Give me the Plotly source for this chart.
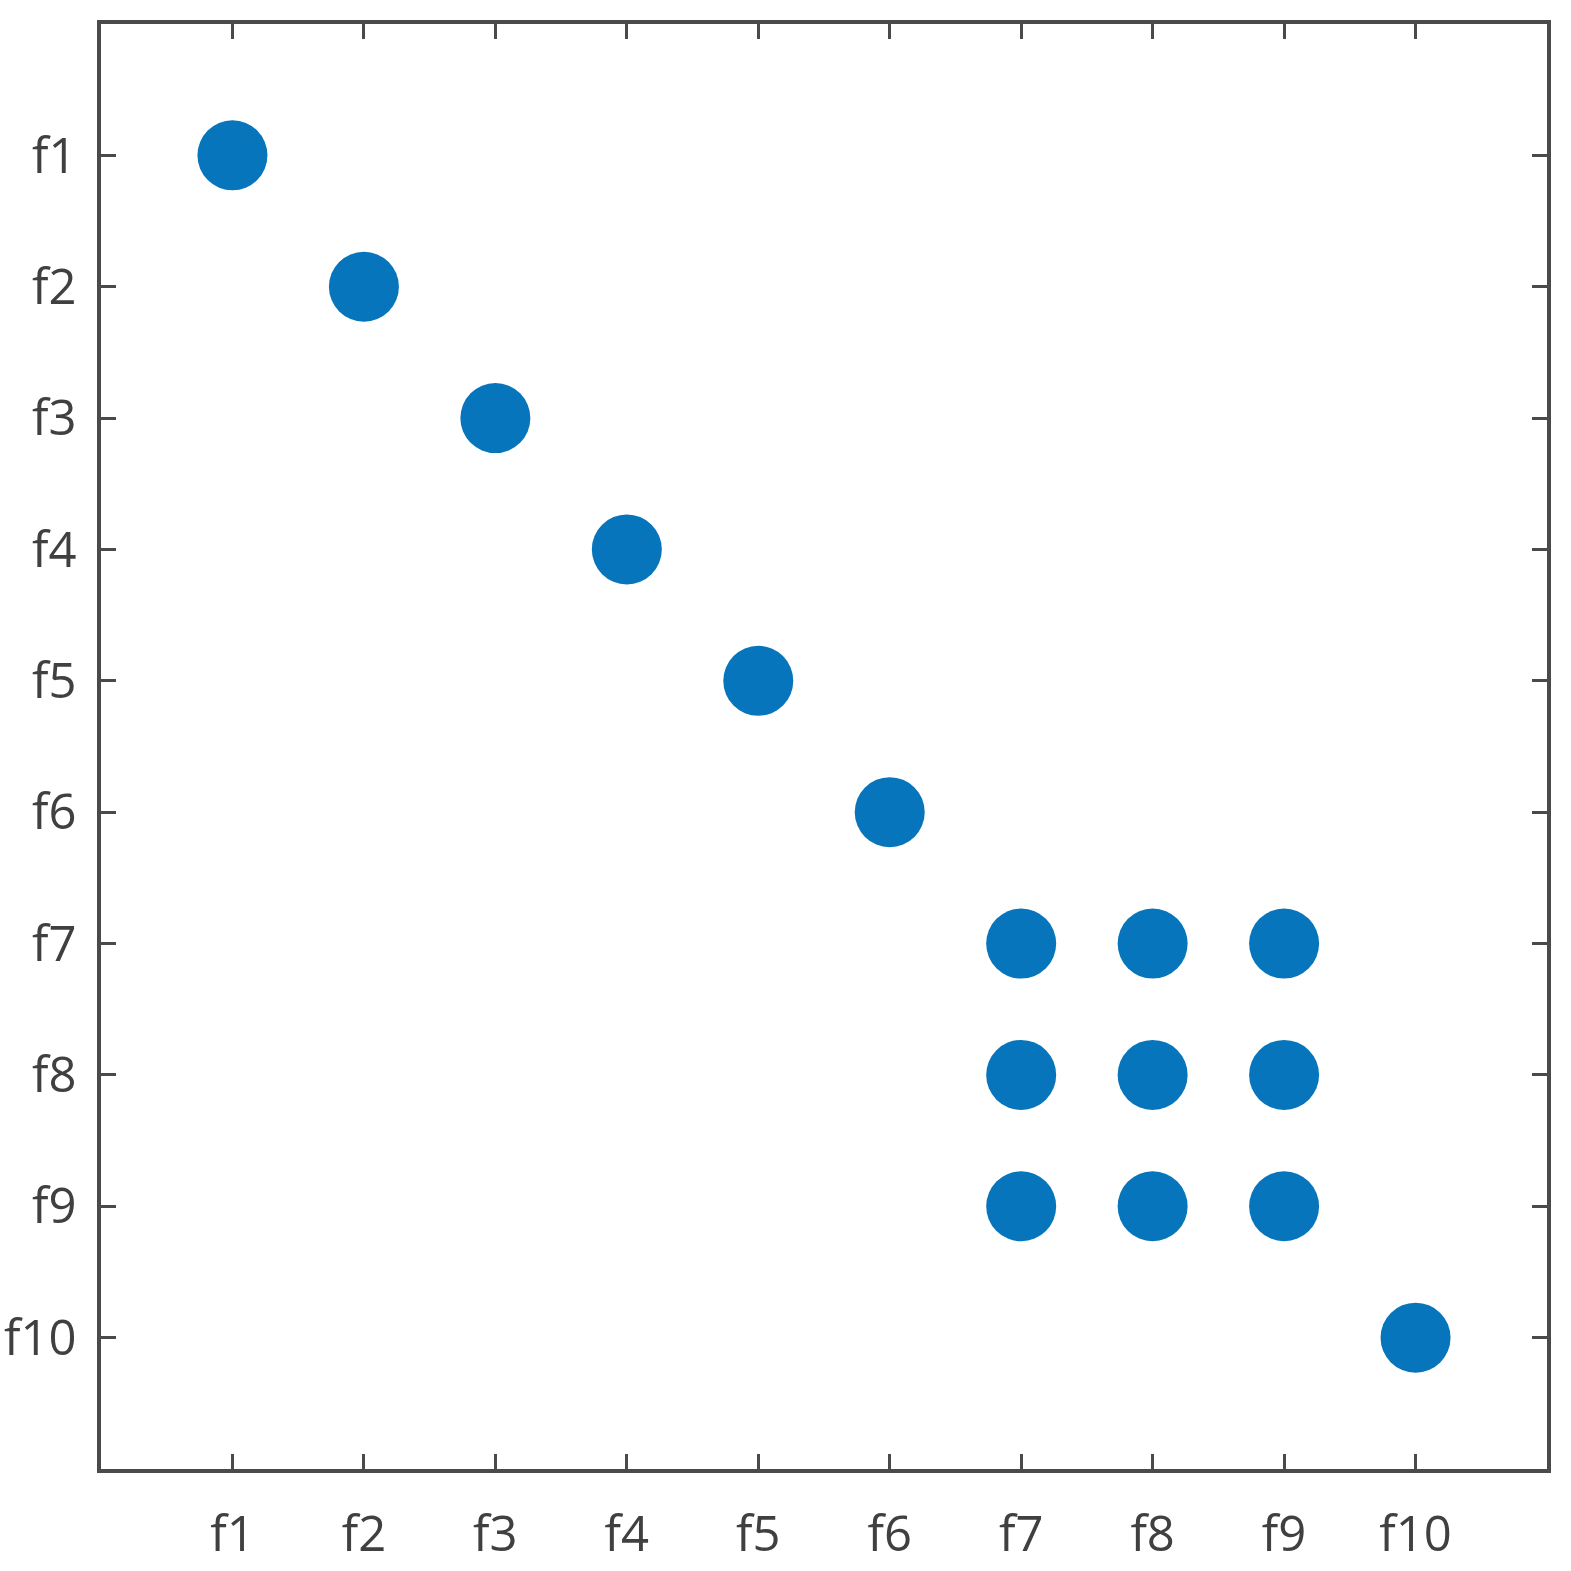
import plotly.graph_objects as go

features = ["f1", "f2", "f3", "f4", "f5", "f6", "f7", "f8", "f9", "f10"]

# pairs of features (column, row) that are linked
pair_x = ["f1", "f2", "f3", "f4", "f5", "f6",
          "f7", "f8", "f9", "f7", "f8", "f9", "f7", "f8", "f9",
          "f10"]
pair_y = ["f1", "f2", "f3", "f4", "f5", "f6",
          "f7", "f7", "f7", "f8", "f8", "f8", "f9", "f9", "f9",
          "f10"]

axis_color = "#4a4a4a"
label_color = "#404040"

fig = go.Figure()
fig.add_trace(go.Scatter(
    x=pair_x, y=pair_y, mode="markers",
    marker=dict(size=70, color="#0675bb", line=dict(width=0)),
    hoverinfo="x+y", showlegend=False,
))

common = dict(
    type="category",
    categoryorder="array",
    categoryarray=features,
    automargin=False,
    showgrid=False,
    zeroline=False,
    showline=True,
    linecolor=axis_color,
    linewidth=3.5,
    mirror="ticks",
    ticks="inside",
    ticklen=15,
    tickwidth=3,
    tickcolor=axis_color,
    tickfont=dict(family="Open Sans", size=49, color=label_color),
)

fig.update_xaxes(range=[-1, 10], ticklabelstandoff=19, **common)
fig.update_yaxes(range=[10, -1], ticklabelstandoff=11, **common)

fig.update_layout(
    width=1571, height=1571,
    margin=dict(l=101, r=24, t=24, b=102),
    plot_bgcolor="white",
    paper_bgcolor="white",
)

# drop the page's default body margin so the figure fills the window
fig.write_html("out.html", config={"displayModeBar": False},
               post_script="document.body.style.margin='0';")
